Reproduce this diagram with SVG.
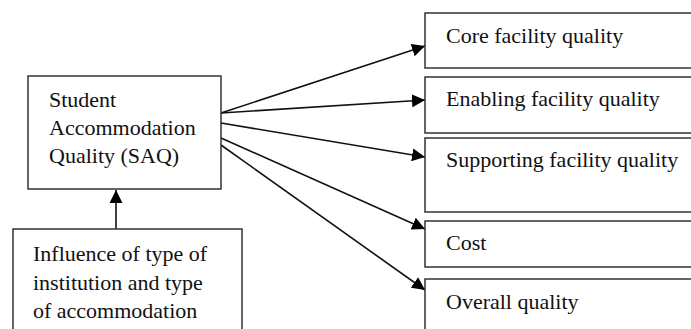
<svg xmlns="http://www.w3.org/2000/svg" width="691" height="329" viewBox="0 0 691 329">
<defs>
<style>
.box{fill:#fff;stroke:#333;stroke-width:1.5}
.t{font-family:"Liberation Serif","Times New Roman",serif;font-size:22px;fill:#111}
.c{stroke:#111;stroke-width:1.6;fill:none;marker-end:url(#ah)}
</style>
<marker id="ah" viewBox="0 0 10 10" refX="10" refY="5" markerWidth="13" markerHeight="13" markerUnits="userSpaceOnUse" orient="auto">
<path d="M0,0 L10,5 L0,10 z" fill="#000"/>
</marker>
</defs>
<rect width="691" height="329" fill="#fff"/>
<g id="connectors">
<line class="c" x1="116" y1="229" x2="116" y2="190"/>
<line class="c" x1="221" y1="113" x2="425" y2="46"/>
<line class="c" x1="221" y1="113" x2="425" y2="100"/>
<line class="c" x1="221" y1="123" x2="425" y2="157"/>
<line class="c" x1="221" y1="138" x2="425" y2="229"/>
<line class="c" x1="221" y1="145" x2="425" y2="290"/>
</g>
<g id="saq">
<rect class="box" x="28" y="76" width="193" height="113"/>
<text class="t" x="49" y="107">Student</text>
<text class="t" x="49" y="135">Accommodation</text>
<text class="t" x="49" y="163">Quality (SAQ)</text>
</g>
<g id="influence">
<rect class="box" x="13" y="229" width="229" height="110"/>
<text class="t" x="33" y="261">Influence of type of</text>
<text class="t" x="33" y="290">institution and type</text>
<text class="t" x="33" y="318">of accommodation</text>
</g>
<g id="core">
<rect class="box" x="425" y="13" width="280" height="55"/>
<text class="t" x="446" y="43">Core facility quality</text>
</g>
<g id="enabling">
<rect class="box" x="425" y="77" width="280" height="56"/>
<text class="t" x="446" y="106">Enabling facility quality</text>
</g>
<g id="supporting">
<rect class="box" x="425" y="138" width="280" height="74"/>
<text class="t" x="446" y="167">Supporting facility quality</text>
</g>
<g id="cost">
<rect class="box" x="425" y="221" width="280" height="46"/>
<text class="t" x="446" y="250">Cost</text>
</g>
<g id="overall">
<rect class="box" x="425" y="279" width="280" height="60"/>
<text class="t" x="446" y="309">Overall quality</text>
</g>
</svg>
